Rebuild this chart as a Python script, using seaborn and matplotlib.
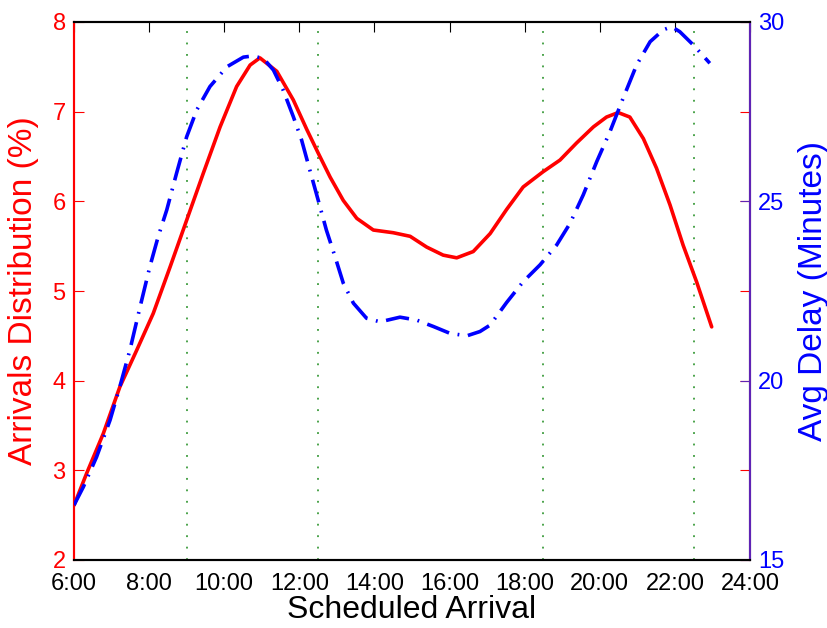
import numpy as np
import pandas as pd
import seaborn as sb
import matplotlib.pyplot as plt

# arrivals distribution (%), red solid, left axis
arr_hours = [6.00, 6.34, 6.78, 7.22, 7.67, 8.11, 8.56, 9.00, 9.44, 9.89,
             10.33, 10.69, 10.95, 11.40, 11.84, 12.20, 12.50, 12.82, 13.17,
             13.53, 13.97, 14.50, 14.95, 15.39, 15.83, 16.19, 16.63, 17.08,
             17.52, 17.96, 18.49, 18.94, 19.38, 19.83, 20.18, 20.49, 20.80,
             21.16, 21.51, 21.87, 22.22, 22.58, 22.98]
arr_pct = [2.61, 2.97, 3.41, 3.93, 4.34, 4.75, 5.27, 5.79, 6.31, 6.83,
           7.28, 7.52, 7.60, 7.45, 7.13, 6.80, 6.54, 6.27, 6.01,
           5.81, 5.68, 5.65, 5.61, 5.49, 5.40, 5.37, 5.44, 5.64,
           5.91, 6.16, 6.33, 6.46, 6.65, 6.83, 6.94, 6.99, 6.94,
           6.70, 6.37, 5.96, 5.51, 5.10, 4.60]

# average delay (minutes), blue dash-dot, right axis
delay_hours = [6.00, 6.25, 6.60, 6.96, 7.22, 7.49, 7.76, 8.02, 8.24, 8.47,
               8.73, 9.00, 9.27, 9.62, 10.07, 10.51, 10.73, 11.04, 11.31,
               11.57, 11.84, 12.06, 12.28, 12.50, 12.72, 12.95, 13.17, 13.44,
               13.79, 14.15, 14.68, 15.12, 15.57, 16.01, 16.46, 16.81, 17.08,
               17.52, 17.96, 18.41, 18.85, 19.21, 19.56, 19.92, 20.27, 20.62,
               20.98, 21.34, 21.69, 21.91, 22.13, 22.49, 22.93]
delay_min = [16.53, 17.04, 17.87, 18.90, 19.83, 20.86, 22.06, 23.18, 24.01, 24.76,
             25.78, 26.80, 27.55, 28.20, 28.75, 29.02, 29.05, 28.99, 28.66,
             28.10, 27.36, 26.71, 25.87, 25.04, 24.20, 23.46, 22.72, 22.16,
             21.74, 21.64, 21.77, 21.69, 21.51, 21.32, 21.25, 21.37, 21.55,
             22.18, 22.76, 23.23, 23.78, 24.39, 25.18, 26.11, 26.94, 27.87,
             28.80, 29.45, 29.78, 29.87, 29.73, 29.36, 28.85]

period_bounds = [9.0, 12.5, 18.5, 22.5]
x_ticks = [6, 8, 10, 12, 14, 16, 18, 20, 22, 24]
x_labels = [f"{h}:00" for h in x_ticks]

sb.set_style("white")
plt.rcParams["font.family"] = ["Liberation Sans", "DejaVu Sans"]

df_arr = pd.DataFrame({"hour": arr_hours, "pct": arr_pct})
df_delay = pd.DataFrame({"hour": delay_hours, "delay": delay_min})

fig = plt.figure(figsize=(8.28, 6.28), dpi=100)
ax = fig.add_axes([74 / 828, 68 / 628, 676 / 828, 538 / 628])
ax2 = ax.twinx()

for xb in period_bounds:
    ax.axvline(xb, color="#1a8a1a", lw=1.1, ls=(0, (1.2, 6.3)), zorder=1)

sb.lineplot(data=df_arr, x="hour", y="pct", ax=ax, color="#ff0000", lw=2.6,
            zorder=3)
sb.lineplot(data=df_delay, x="hour", y="delay", ax=ax2, color="#0000ff", lw=2.6,
            dashes=False, zorder=3)
for ln in ax.lines + ax2.lines:
    ln.set_solid_joinstyle("round")
    ln.set_dash_joinstyle("round")
ax2.lines[0].set_dashes((6.5, 2.4, 0.5, 2.4))

ax.set_xlim(6, 24)
ax.set_ylim(2, 8)
ax2.set_ylim(15, 30)
ax.set_xticks(x_ticks)
ax.set_xticklabels(x_labels)
ax.set_yticks([2, 3, 4, 5, 6, 7, 8])
ax2.set_yticks([15, 20, 25, 30])

ax.tick_params(axis="x", direction="in", length=7, top=True, labelsize=17,
               colors="black", pad=9)
ax.tick_params(axis="y", direction="in", length=7, right=True, labelsize=17,
               colors="#ff0000", pad=6)
ax2.tick_params(axis="y", direction="in", length=7, labelsize=17,
                colors="#5f23b5", labelcolor="#0000ff", pad=6)

ax.set_xlabel("Scheduled Arrival", fontsize=23, color="black", labelpad=0)
ax.set_ylabel("Arrivals Distribution (%)", fontsize=24, color="#ff0000",
              labelpad=10)
ax2.set_ylabel("Avg Delay (Minutes)", fontsize=24, color="#0000ff",
               labelpad=10)

for s in ["top", "bottom"]:
    ax.spines[s].set_color("black")
    ax2.spines[s].set_color("black")
ax.spines["left"].set_color("#ff0000")
ax2.spines["left"].set_color("#ff0000")
ax2.spines["right"].set_color("#5f23b5")
for sp in list(ax.spines.values()) + list(ax2.spines.values()):
    sp.set_linewidth(1.5)

plt.savefig("out.png", dpi=100)
